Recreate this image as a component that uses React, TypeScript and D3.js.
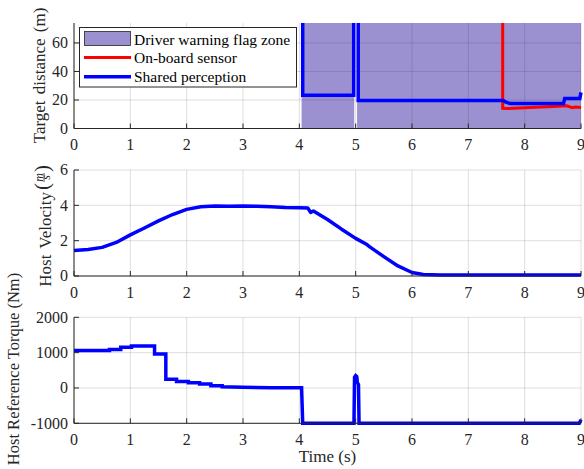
import React, { useEffect, useRef } from 'react';
import * as d3 from 'd3';

// time axis
const timeTicks = [0, 1, 2, 3, 4, 5, 6, 7, 8, 9];

// top panel: target distance (m); 150 = no target (off the chart)
const distTicks = [0, 20, 40, 60];
const warningZones = [
  [4.04, 4.975],
  [5.025, 9.0],
];
const sharedT = [0, 4.06, 4.06, 4.965, 4.965, 5.045, 5.045, 7.62, 7.66, 7.74, 8.69, 8.71, 8.98, 9.0];
const sharedD = [150, 150, 23.3, 23.3, 150, 150, 19.6, 19.6, 18.6, 17.5, 17.5, 21.0, 21.0, 25.3];
const onboardT = [0, 7.61, 7.61, 7.7, 8.0, 8.3, 8.6, 8.75, 8.8, 8.85, 8.9, 9.0];
const onboardD = [150, 150, 14.2, 14.0, 14.5, 15.0, 15.6, 16.0, 15.2, 14.6, 15.0, 14.8];

// middle panel: host velocity (m/s)
const velTicks = [0, 2, 4, 6];
const velT = [0, 0.25, 0.5, 0.75, 1.0, 1.25, 1.5, 1.75, 2.0, 2.25, 2.5, 2.75, 3.0, 3.25, 3.5, 3.75, 4.0, 4.15, 4.2, 4.25, 4.5, 4.75, 5.0, 5.2, 5.25, 5.5, 5.75, 6.0, 6.2, 6.5, 7.0, 8.0, 9.0];
const velV = [1.45, 1.5, 1.62, 1.9, 2.33, 2.72, 3.12, 3.48, 3.77, 3.92, 3.96, 3.95, 3.96, 3.95, 3.92, 3.88, 3.86, 3.85, 3.6, 3.68, 3.2, 2.65, 2.13, 1.78, 1.65, 1.1, 0.57, 0.2, 0.09, 0.05, 0.05, 0.05, 0.05];

// bottom panel: host reference torque (Nm)
const torqueTicks = [-1000, 0, 1000, 2000];
const torqueTickLabels = ['-1000', '0', '1000', '2000'];
const torqueT = [0, 0.63, 0.63, 0.83, 0.83, 1.02, 1.02, 1.43, 1.43, 1.63, 1.63, 1.82, 1.82, 2.03, 2.03, 2.23, 2.23, 2.43, 2.43, 2.63, 2.63, 3.0, 3.5, 4.04, 4.06, 4.97, 4.98, 5.0, 5.02, 5.03, 5.05, 5.06, 8.97, 9.0];
const torqueV = [1060, 1060, 1090, 1090, 1150, 1150, 1190, 1190, 960, 960, 250, 250, 185, 185, 145, 145, 110, 110, 60, 60, 35, 20, 8, 5, -1000, -1000, 300, 350, 320, 150, 100, -1000, -1000, -900];

const legendItems = ['Driver warning flag zone', 'On-board sensor', 'Shared perception'];

const FONT = "'Liberation Serif', 'Times New Roman', Times, serif";
const AXIS = '#262626';
const ZONE = '#9b90d0';

const App = () => {
  const ref = useRef<SVGSVGElement>(null);

  useEffect(() => {
    const svg = d3.select(ref.current);
    svg.selectAll('*').remove();

    const x = d3.scaleLinear().domain([0, 9]).range([74, 581]);

    const drawPanel = (id: string, top: number, bottom: number, domain: number[], ticks: number[], labels: string[]) => {
      const y = d3.scaleLinear().domain(domain).range([bottom, top]);
      const g = svg.append('g');
      svg
        .append('clipPath')
        .attr('id', id)
        .append('rect')
        .attr('x', x(0) - 3)
        .attr('y', top)
        .attr('width', x(9) - x(0) + 6)
        .attr('height', bottom - top + 3);

      const under = g.append('g');
      const grid = g.append('g');
      timeTicks.forEach(t =>
        grid.append('line').attr('x1', x(t)).attr('x2', x(t)).attr('y1', top).attr('y2', bottom)
          .attr('stroke', AXIS).attr('stroke-opacity', 0.15).attr('stroke-width', 1)
      );
      ticks.forEach(v =>
        grid.append('line').attr('x1', x(0)).attr('x2', x(9)).attr('y1', y(v)).attr('y2', y(v))
          .attr('stroke', AXIS).attr('stroke-opacity', 0.15).attr('stroke-width', 1)
      );
      const data = g.append('g').attr('clip-path', `url(#${id})`);

      // axes
      const ax = g.append('g');
      ax.append('line').attr('x1', x(0)).attr('x2', x(9)).attr('y1', bottom).attr('y2', bottom).attr('stroke', AXIS);
      ax.append('line').attr('x1', x(0)).attr('x2', x(0)).attr('y1', top).attr('y2', bottom).attr('stroke', AXIS);
      timeTicks.forEach(t => {
        ax.append('line').attr('x1', x(t)).attr('x2', x(t)).attr('y1', bottom).attr('y2', bottom - 5).attr('stroke', AXIS);
        ax.append('text').attr('x', x(t)).attr('y', bottom + 21.5).attr('text-anchor', 'middle')
          .style('font-family', FONT).style('font-size', '16px').attr('fill', AXIS).text(t);
      });
      ticks.forEach((v, i) => {
        ax.append('line').attr('x1', x(0)).attr('x2', x(0) + 5).attr('y1', y(v)).attr('y2', y(v)).attr('stroke', AXIS);
        ax.append('text').attr('x', x(0) - 6).attr('y', y(v)).attr('dy', '0.34em').attr('text-anchor', 'end')
          .style('font-family', FONT).style('font-size', '16px').attr('fill', AXIS).text(labels[i]);
      });
      return { y, under, data, g };
    };

    const line = (y: d3.ScaleLinear<number, number>, ts: number[], vs: number[]) =>
      d3.line<number>().x(i => x(ts[i])).y(i => y(vs[i]))(ts.map((_, i) => i));

    // ---- top panel
    const p1 = drawPanel('clipDist', 23, 128.5, [0, 74], distTicks, distTicks.map(String));
    warningZones.forEach(([a, b]) =>
      p1.under.append('rect').attr('x', x(a)).attr('y', 23).attr('width', x(b) - x(a)).attr('height', 128.5 - 23).attr('fill', ZONE)
    );
    p1.data.append('path').attr('d', line(p1.y, onboardT, onboardD)).attr('fill', 'none').attr('stroke', '#ff0000').attr('stroke-width', 3);
    p1.data.append('path').attr('d', line(p1.y, sharedT, sharedD)).attr('fill', 'none').attr('stroke', '#0000ff').attr('stroke-width', 3.5);

    // legend
    const lg = svg.append('g');
    lg.append('rect').attr('x', 79.5).attr('y', 27.5).attr('width', 217).attr('height', 59.5).attr('fill', '#fff').attr('stroke', AXIS);
    lg.append('rect').attr('x', 84.5).attr('y', 31.5).attr('width', 46).attr('height', 14).attr('fill', ZONE).attr('stroke', AXIS).attr('stroke-width', 0.8);
    lg.append('line').attr('x1', 84).attr('x2', 131).attr('y1', 57.5).attr('y2', 57.5).attr('stroke', '#ff0000').attr('stroke-width', 3);
    lg.append('line').attr('x1', 84).attr('x2', 131).attr('y1', 76.8).attr('y2', 76.8).attr('stroke', '#0000ff').attr('stroke-width', 3.5);
    [44.5, 63, 81.8].forEach((by, i) =>
      lg.append('text').attr('x', 134).attr('y', by).style('font-family', FONT).style('font-size', '15.5px').attr('fill', '#000').text(legendItems[i])
    );

    // ---- middle panel
    const p2 = drawPanel('clipVel', 170, 276, [0, 6], velTicks, velTicks.map(String));
    p2.data.append('path').attr('d', line(p2.y, velT, velV)).attr('fill', 'none').attr('stroke', '#0000ff').attr('stroke-width', 3.5).attr('stroke-linejoin', 'round');

    // ---- bottom panel
    const p3 = drawPanel('clipTorque', 317.3, 423.3, [-1000, 2000], torqueTicks, torqueTickLabels);
    p3.data.append('path').attr('d', line(p3.y, torqueT, torqueV)).attr('fill', 'none').attr('stroke', '#0000ff').attr('stroke-width', 3.5);

    // axis titles
    svg.append('text').attr('transform', 'translate(45,75.5) rotate(-90)').attr('text-anchor', 'middle')
      .style('font-family', FONT).style('font-size', '17px').style('word-spacing', '2px').attr('fill', AXIS).text('Target distance (m)');

    const vl = svg.append('g').attr('transform', 'translate(51,223) rotate(-90)').style('font-family', FONT).attr('fill', AXIS);
    vl.append('text').attr('x', 31).attr('y', 0).attr('text-anchor', 'end').style('font-size', '17px').style('word-spacing', '2px').text('Host Velocity');
    vl.append('text').attr('x', 33).attr('y', -2).style('font-size', '21px').text('(');
    vl.append('text').attr('x', 45.5).attr('y', -8.5).attr('text-anchor', 'middle').style('font-size', '12px').style('font-style', 'italic').text('m');
    vl.append('line').attr('x1', 41).attr('x2', 50).attr('y1', -7).attr('y2', -7).attr('stroke', AXIS).attr('stroke-width', 0.8);
    vl.append('text').attr('x', 45.5).attr('y', -0.8).attr('text-anchor', 'middle').style('font-size', '12px').style('font-style', 'italic').text('s');
    vl.append('text').attr('x', 51).attr('y', -2).style('font-size', '21px').text(')');

    svg.append('text').attr('transform', 'translate(19,369) rotate(-90)').attr('text-anchor', 'middle')
      .style('font-family', FONT).style('font-size', '16.5px').attr('fill', AXIS).text('Host Reference Torque (Nm)');

    svg.append('text').attr('x', x(4.5)).attr('y', 462).attr('text-anchor', 'middle')
      .style('font-family', FONT).style('font-size', '17px').attr('fill', AXIS).text('Time (s)');
  }, []);

  return (
    <svg
      ref={ref}
      width={584}
      height={469}
      style={{ position: 'absolute', left: 0, top: 0, background: '#fff', display: 'block' }}
    />
  );
};

export default App;
